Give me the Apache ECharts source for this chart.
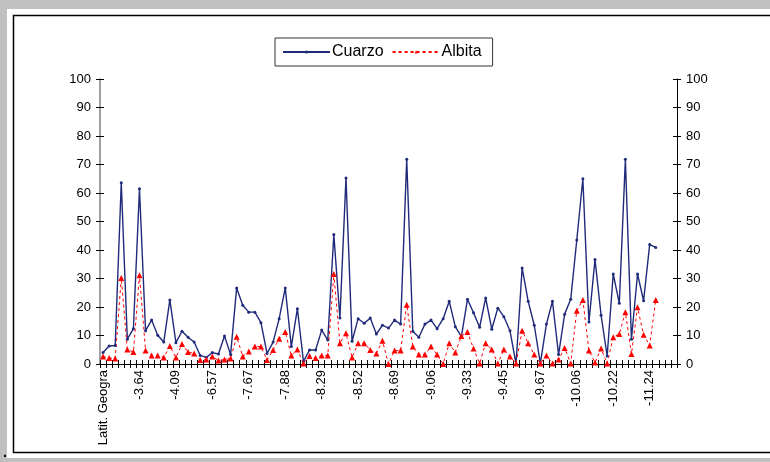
<!DOCTYPE html>
<html>
<head>
<meta charset="utf-8">
<script src="https://cdn.jsdelivr.net/npm/echarts@6/dist/echarts.min.js"></script>
<style>
html,body{margin:0;padding:0;background:#c0c0c0;}
#c{width:770px;height:462px;}
</style>
</head>
<body>
<div id="c"></div>
<script>
// Tick labels shown under every 6th category
var tickLabels = ["Latit. Geogra","-3.64","-4.09","-6.57","-7.67","-7.88","-8.29","-8.52","-8.69","-9.06","-9.33","-9.45","-9.67","-10.06","-10.22","-11.24"];
var categoryCount = 95;
var labelStep = 6;

var cuarzo = [4.0,6.3,6.5,63.6,8.7,12.4,61.5,11.7,15.4,10.1,
  7.7,22.5,7.5,11.5,9.4,7.7,3.0,2.3,4.0,3.5,
  9.8,3.3,26.7,20.6,18.2,18.2,14.5,3.7,7.7,15.9,
  26.7,6.1,19.4,0.9,4.9,4.9,11.9,8.4,45.4,16.1,
  65.3,8.0,15.9,14.3,16.1,10.5,13.6,12.6,15.4,14.0,
  71.8,11.5,9.4,14.0,15.4,12.4,15.9,22.0,13.1,9.6,
  22.7,18.0,12.9,23.2,12.2,19.6,16.6,11.7,0,33.7,
  22.0,13.6,0.2,14.0,22.0,3.3,17.5,22.7,43.5,65.0,
  14.7,36.7,17.1,2.8,31.6,21.3,71.8,8.7,31.6,22.2,
  41.9,40.9];

var albita = [2.6,2.1,1.9,30.2,5.1,4.2,31.1,4.7,3.0,3.0,
  2.3,6.3,2.3,7.0,4.2,3.7,1.4,1.6,2.6,1.2,
  1.6,1.9,9.6,2.6,4.4,6.1,6.1,1.4,4.9,8.9,
  11.2,3.0,5.1,0.2,2.8,2.1,3.0,3.0,31.6,7.3,
  10.8,2.3,7.3,7.3,4.9,3.7,8.2,0,4.7,4.7,
  20.8,6.1,3.3,3.3,6.1,3.3,0,7.3,4.0,9.8,
  11.2,5.4,0.2,7.3,5.1,0.2,5.1,2.6,0.2,11.7,
  7.3,3.3,0.2,3.0,0.2,1.6,5.6,0.2,18.7,22.5,
  4.7,0.5,5.4,0.2,9.4,10.5,18.2,3.5,19.9,10.3,
  6.5,22.5];

var categories = [];
for (var i = 0; i < categoryCount; i++) categories.push('');
for (var k = 0; k < tickLabels.length; k++) categories[k * labelStep] = tickLabels[k];

var chart = echarts.init(document.getElementById('c'), null, {renderer:'canvas'});
var font = 'Liberation Sans, Arial, sans-serif';
var yBase = {type:'value', min:0, max:100, interval:10, splitLine:{show:false}, gridIndex:0};
var option = {
  backgroundColor:'#c0c0c0',
  animation:false,
  graphic:[
    {type:'rect', shape:{x:7, y:9, width:770, height:449}, style:{fill:'#ffffff'}, z:-10, silent:true},
    {type:'rect', shape:{x:13.5, y:15.5, width:770, height:437}, style:{fill:'#ffffff', stroke:'#000000', lineWidth:1.5}, z:-9, silent:true},
    {type:'text', left:3, top:446, style:{text:'.', font:'bold 14px ' + font, fill:'#000'}}
  ],
  legend:{
    data:['Cuarzo','Albita'],
    left:275, top:38,
    orient:'horizontal',
    borderColor:'#333', borderWidth:1, borderRadius:0,
    padding:[6,11,6,7],
    itemWidth:47, itemHeight:4, itemGap:8,
    textStyle:{fontFamily:font, fontSize:16, color:'#000', padding:[0,0,0,-3]}
  },
  grid:{left:100, right:93, top:79, bottom:98, containLabel:false},
  xAxis:[
    {type:'category', data:categories, boundaryGap:true, gridIndex:0,
      axisLine:{show:true, lineStyle:{color:'#000', width:1}},
      axisTick:{show:true, interval:0, length:4, inside:false, lineStyle:{color:'#000'}},
      axisLabel:{interval:0, rotate:90, fontFamily:font, fontSize:13, color:'#000', margin:6}},
    {type:'category', data:categories, boundaryGap:true, gridIndex:0, position:'bottom',
      axisLine:{show:false},
      axisTick:{show:true, interval:0, length:4, inside:true, lineStyle:{color:'#000'}},
      axisLabel:{show:false}}
  ],
  yAxis:[
    Object.assign({}, yBase, {position:'left',
      axisLine:{show:true, lineStyle:{color:'#808080', width:1.5}},
      axisTick:{show:true, length:4, lineStyle:{color:'#000'}},
      axisLabel:{fontFamily:font, fontSize:13, color:'#000', margin:9}}),
    Object.assign({}, yBase, {position:'right',
      axisLine:{show:true, lineStyle:{color:'#000', width:1}},
      axisTick:{show:true, length:4, lineStyle:{color:'#000'}},
      axisLabel:{fontFamily:font, fontSize:13, color:'#000', margin:9}}),
    Object.assign({}, yBase, {position:'left',
      axisLine:{show:false}, axisTick:{show:true, inside:true, length:4, lineStyle:{color:'#000'}}, axisLabel:{show:false}}),
    Object.assign({}, yBase, {position:'right',
      axisLine:{show:false}, axisTick:{show:true, inside:true, length:4, lineStyle:{color:'#000'}}, axisLabel:{show:false}})
  ],
  series:[
    {name:'Cuarzo', type:'line', data:cuarzo, xAxisIndex:0, yAxisIndex:0,
      symbol:'circle', symbolSize:3, showAllSymbol:true,
      lineStyle:{color:'#1f2a7a', width:1.4},
      itemStyle:{color:'#1f2a7a'}},
    {name:'Albita', type:'line', data:albita, xAxisIndex:0, yAxisIndex:0,
      symbol:'triangle', symbolSize:6, showAllSymbol:true,
      lineStyle:{color:'#ff0000', width:1, type:[3,3]},
      itemStyle:{color:'#ff0000'}}
  ]
};
chart.setOption(option);
</script>
</body>
</html>
